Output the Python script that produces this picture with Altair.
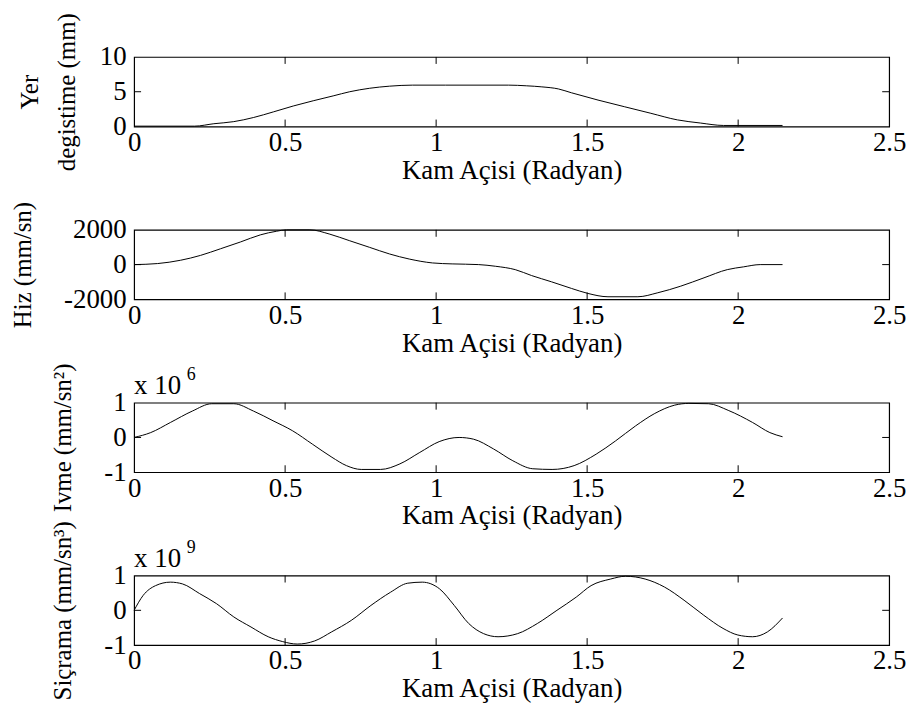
import altair as alt
import pandas as pd

# ---------------- data ----------------
x_disp = [0, 0.2, 0.264, 0.33, 0.396, 0.461, 0.527, 0.593, 0.659, 0.714, 0.78, 0.846,
          0.922, 1.031, 1.24, 1.30, 1.35, 1.405, 1.448, 1.536, 1.623, 1.711, 1.799,
          1.875, 1.952, 2.147]
disp = [0.05, 0.05, 0.4, 0.7, 1.3, 2.1, 2.95, 3.7, 4.4, 5.0, 5.5, 5.8,
        5.95, 5.95, 5.95, 5.85, 5.7, 5.4, 4.85, 3.8, 2.85, 1.9, 0.95,
        0.5, 0.15, 0.15]

x_vel = [0, 0.078, 0.154, 0.22, 0.286, 0.352, 0.418, 0.472, 0.505, 0.582, 0.648, 0.714,
         0.78, 0.846, 0.911, 0.988, 1.053, 1.141, 1.196, 1.262, 1.316, 1.382, 1.448,
         1.503, 1.569, 1.668, 1.734, 1.81, 1.887, 1.964, 2.018, 2.073, 2.147]
vel = [0, 60, 250, 530, 910, 1300, 1710, 1920, 2000, 2000, 1750, 1370,
       990, 610, 320, 95, 40, 0, -95, -290, -630, -990, -1370,
       -1660, -1850, -1850, -1620, -1240, -760, -290, -130, 0, 0]

x_acc = [0, 0.055, 0.12, 0.193, 0.257, 0.33, 0.395, 0.46, 0.525, 0.59, 0.655, 0.703,
         0.752, 0.816, 0.88, 0.946, 1.01, 1.076, 1.124, 1.19, 1.254, 1.32, 1.384,
         1.457, 1.53, 1.594, 1.66, 1.724, 1.79, 1.837, 1.902, 1.967, 2.048, 2.105, 2.147]
acc = [0, 0.14, 0.43, 0.76, 0.97, 0.97, 0.76, 0.48, 0.19, -0.19, -0.57, -0.81,
       -0.92, -0.92, -0.76, -0.43, -0.12, 0.0, -0.05, -0.33, -0.67, -0.9, -0.92,
       -0.81, -0.48, -0.1, 0.33, 0.69, 0.93, 0.98, 0.97, 0.78, 0.43, 0.14, 0.02]

x_jerk = [0, 0.03, 0.071, 0.12, 0.16, 0.217, 0.273, 0.33, 0.387, 0.444, 0.492, 0.54,
          0.598, 0.654, 0.719, 0.784, 0.849, 0.906, 0.954, 1.011, 1.06, 1.108, 1.157,
          1.205, 1.27, 1.335, 1.4, 1.464, 1.513, 1.578, 1.627, 1.692, 1.756, 1.821,
          1.886, 1.95, 1.999, 2.048, 2.097, 2.147]
jerk = [0, 0.43, 0.71, 0.81, 0.76, 0.48, 0.19, -0.19, -0.48, -0.76, -0.9, -0.97,
        -0.88, -0.62, -0.29, 0.14, 0.52, 0.78, 0.81, 0.62, 0.14, -0.38, -0.67,
        -0.76, -0.67, -0.38, 0.0, 0.38, 0.71, 0.9, 0.98, 0.9, 0.67, 0.29,
        -0.14, -0.52, -0.71, -0.76, -0.62, -0.22]

x_ticks = [0, 0.5, 1, 1.5, 2, 2.5]
x_inner_ticks = [0.5, 1, 1.5, 2]
x_title = "Kam Açisi (Radyan)"

panels = [
    dict(x=x_disp, y=disp, dom=[0, 10], ticks=[0, 5, 10], title=["Yer", "degistime (mm)"],
         tx=-105, exp=None),
    dict(x=x_vel, y=vel, dom=[-2000, 2000], ticks=[-2000, 0, 2000], title="Hiz (mm/sn)",
         tx=-112, exp=None),
    dict(x=x_acc, y=acc, dom=[-1, 1], ticks=[-1, 0, 1], title="Ivme (mm/sn²)",
         tx=-72, exp=("x 10", "6")),
    dict(x=x_jerk, y=jerk, dom=[-1, 1], ticks=[-1, 0, 1], title="Siçrama (mm/sn³)",
         tx=-72, exp=("x 10", "9")),
]

FONT = "Liberation Serif"
W, H = 760, 70
TL = 7  # inward tick length
FS = 27


def panel(p):
    df = pd.DataFrame({"x": p["x"], "y": p["y"]})
    xs = alt.Scale(domain=[0, 2.5], nice=False, zero=False)
    ys = alt.Scale(domain=p["dom"], nice=False, zero=False)
    xa = alt.Axis(
        values=x_ticks, labelExpr="''+datum.value", ticks=False, domain=False, grid=False,
        labelFont=FONT, labelFontSize=FS, labelColor="black", labelPadding=3,
        labelFlush=False, labelOverlap=False, labelBound=False,
        title=x_title, titleFont=FONT, titleFontSize=FS, titleFontWeight="normal",
        titleColor="black", titlePadding=2)
    ya = alt.Axis(
        values=p["ticks"], labelExpr="''+datum.value", ticks=False, domain=False, grid=False,
        labelFont=FONT, labelFontSize=FS, labelColor="black", labelPadding=8,
        labelFlush=False, labelOverlap=False, labelBound=False,
        title=p["title"], titleFont=FONT, titleFontSize=25, titleFontWeight="normal",
        titleColor="black", titleX=p["tx"], titleY=H / 2, titleAngle=270,
        titleAlign="center", titleBaseline="middle", titleLineHeight=37)
    X = alt.X("x:Q", scale=xs, axis=xa)
    Y = alt.Y("y:Q", scale=ys, axis=ya)
    line = alt.Chart(df).mark_line(color="black", strokeWidth=1, interpolate="monotone").encode(
        x=X, y=Y)
    xt = pd.DataFrame({"x": x_inner_ticks})
    top_t = alt.Chart(xt).mark_rule(color="black", strokeWidth=1).encode(
        x=X, y=alt.value(0), y2=alt.value(TL))
    bot_t = alt.Chart(xt).mark_rule(color="black", strokeWidth=1).encode(
        x=X, y=alt.value(H - TL), y2=alt.value(H))
    yt = pd.DataFrame({"y": p["ticks"][1:-1]})
    left_t = alt.Chart(yt).mark_rule(color="black", strokeWidth=1).encode(
        y=Y, x=alt.value(0), x2=alt.value(TL))
    right_t = alt.Chart(yt).mark_rule(color="black", strokeWidth=1).encode(
        y=Y, x=alt.value(W - TL), x2=alt.value(W))
    layers = [line, top_t, bot_t, left_t, right_t]
    if p["exp"]:
        base, power = p["exp"]
        tdf = pd.DataFrame({"base": [base], "power": [power]})
        t1 = alt.Chart(tdf).mark_text(font=FONT, fontSize=FS, fontWeight="normal", align="left",
                                      baseline="alphabetic", color="black").encode(
            x=alt.value(0), y=alt.value(-9), text="base:N")
        t2 = alt.Chart(tdf).mark_text(font=FONT, fontSize=18, fontWeight="normal", align="left",
                                      baseline="alphabetic", color="black").encode(
            x=alt.value(53), y=alt.value(-23), text="power:N")
        layers += [t1, t2]
    return alt.layer(*layers).properties(width=W, height=H)


chart = alt.vconcat(*[panel(p) for p in panels], spacing=104, bounds="flush").properties(
    padding={"left": 10, "top": 9, "right": 5, "bottom": 5},
    background="white",
).configure_view(stroke="black", strokeWidth=1.2)

chart.save("out.html", embed_options={"renderer": "svg", "actions": False})
